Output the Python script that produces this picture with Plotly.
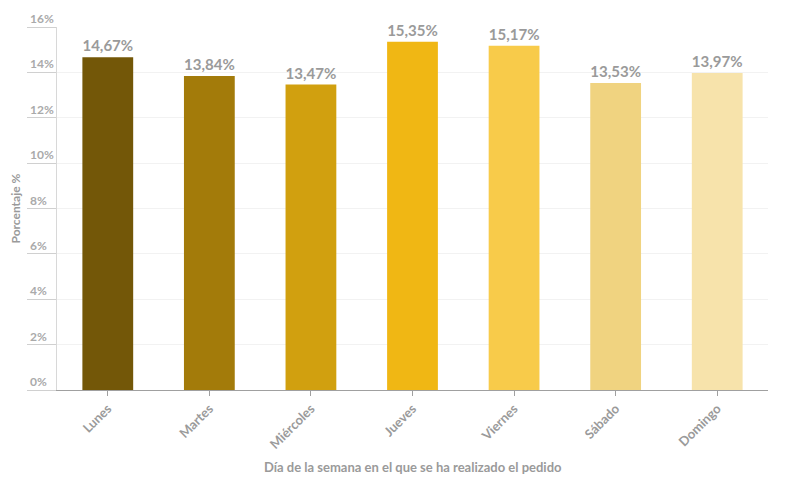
import plotly.graph_objects as go

# Pedidos por día de la semana (%)
days = ["Lunes", "Martes", "Miércoles", "Jueves", "Viernes", "Sábado", "Domingo"]
share = [14.67, 13.84, 13.47, 15.35, 15.17, 13.53, 13.97]
bar_colors = ["#735708", "#a37b0a", "#d1a00f", "#f0b714", "#f8cb4a", "#f0d380", "#f7e3ab"]
y_ticks = [0, 2, 4, 6, 8, 10, 12, 14, 16]

GREY = "#9a9a9a"
FONT = "Lato"

labels = [f"{v:.2f}".replace(".", ",") + "%" for v in share]

fig = go.Figure()
fig.add_trace(go.Bar(
    x=days,
    y=share,
    marker=dict(color=bar_colors, line=dict(width=0)),
    text=labels,
    textposition="outside",
    textfont=dict(family=FONT, size=16, color=GREY, weight="bold"),
    cliponaxis=False,
    hoverinfo="skip",
))

# y tick labels sit on top of their tick lines, so they are annotations
for t in y_ticks:
    fig.add_annotation(
        x=0, xref="paper", y=t, yref="y",
        xshift=-29, yshift=-1,
        text=f"{t}%", showarrow=False,
        xanchor="left", yanchor="bottom",
        font=dict(family=FONT, size=12, color="#aaaaaa", weight="bold"),
    )

fig.add_annotation(
    x=0, xref="paper", y=0.5, yref="paper", xshift=-42,
    text="Porcentaje %", textangle=-90, showarrow=False,
    xanchor="center", yanchor="middle",
    font=dict(family=FONT, size=12, color=GREY, weight="bold"),
)
fig.add_annotation(
    x=0.5, xref="paper", y=0, yref="paper", yshift=-77,
    text="Día de la semana en el que se ha realizado el pedido",
    showarrow=False, xanchor="center", yanchor="middle",
    font=dict(family=FONT, size=13, color=GREY, weight="bold"),
)

# the page adds an 8px body margin, so the figure is 8px smaller each way
fig.update_layout(
    width=779, height=471,
    margin=dict(l=49, r=19, t=19, b=89),
    plot_bgcolor="white", paper_bgcolor="white",
    bargap=0.5,
    showlegend=False,
    font=dict(family=FONT),
    xaxis=dict(
        showline=True, linecolor="#a0a0a0", linewidth=1,
        ticks="outside", ticklen=5, tickcolor="#a0a0a0",
        tickangle=-45,
        tickfont=dict(family=FONT, size=13, color=GREY, weight="bold"),
        showgrid=False,
    ),
    yaxis=dict(
        range=[0, 16], tickvals=y_ticks, showticklabels=False,
        showline=True, linecolor="#d8d8d8", linewidth=1,
        ticks="outside", ticklen=29, tickcolor="#d0d0d0",
        showgrid=True, gridcolor="#f2f2f2", gridwidth=1,
        zeroline=False,
    ),
)

fig.write_html("out.html")
